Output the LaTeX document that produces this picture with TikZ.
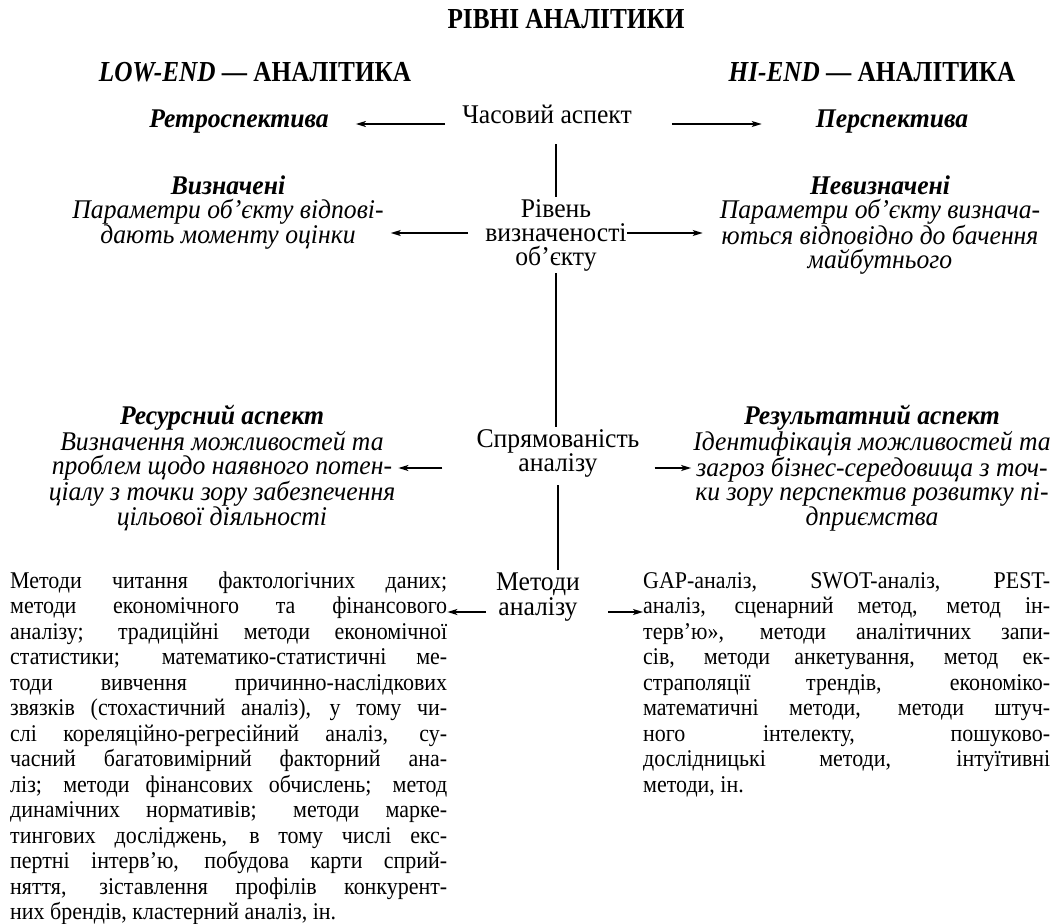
\documentclass[tikz,border=0pt]{standalone}
\usepackage{fontspec}
\setmainfont{Liberation Serif}
\newfontfamily\cnd[FakeStretch=0.95]{Liberation Serif}
\newfontfamily\hdf[FakeStretch=0.87]{Liberation Serif}
\newfontfamily\bdf[FakeStretch=0.915]{Liberation Serif}
\usetikzlibrary{arrows.meta}
\hbadness=10000 \hfuzz=60pt \vbadness=10000
\newcommand\clines[1]{\vtop{\halign{\hfil##\hfil\cr#1\crcr}}}
\newcommand\jl[1]{\hbox to\hsize{#1}}
\tikzset{
  lbl/.style={inner sep=0pt, anchor=base, font=\cnd\fontsize{27}{24}\selectfont},
  hd/.style={inner sep=0pt, anchor=base, font=\hdf\bfseries\fontsize{29}{24}\selectfont},
  itx/.style={inner sep=0pt, anchor=base, font=\cnd\itshape\fontsize{27}{24}\selectfont},
  body/.style={inner sep=0pt, anchor=base west, font=\bdf\fontsize{24}{25.5}\selectfont},
  arr/.style={-{Stealth[length=10pt,width=6pt,inset=2.5pt]}, line width=1.4pt},
  vline/.style={line width=1.4pt}
}
\begin{document}
\begin{tikzpicture}[x=1pt,y=-1pt]
\useasboundingbox (0,0) rectangle (1056,923);
% headings
\node[hd] (title) at (566,29) {РІВНІ АНАЛІТИКИ};
\node[hd] (low) at (255,82) {\itshape LOW-END\/\upshape{} — АНАЛІТИКА};
\node[hd] (hi) at (872,82) {\itshape HI-END\/\upshape{} — АНАЛІТИКА};
% row 1
\node[itx] (retro) at (239,127) {\bfseries Ретроспектива};
\node[lbl] (chas) at (547,124) {Часовий аспект};
\node[itx] (persp) at (892,127) {\bfseries Перспектива};
% row 2
\node[lbl] (riv) at (556,217) {\clines{Рівень\cr визначеності\cr об’єкту}};
\node[itx] (viz) at (228,194) {\clines{\bfseries Визначені\cr Параметри об’єкту відпові-\cr дають моменту оцінки}};
\node[itx] (nev) at (880,194) {\clines{\bfseries Невизначені\cr Параметри об’єкту визнача-\cr ються відповідно до бачення\cr майбутнього}};
% row 3
\node[lbl] (spr) at (558,447) {\clines{Спрямованість\cr аналізу}};
\node[itx] (res) at (222,424) {\clines{\bfseries Ресурсний аспект\cr Визначення можливостей та\cr проблем щодо наявного потен-\cr ціалу з точки зору забезпечення\cr цільової діяльності}};
\node[itx] (rez) at (872,424) {\clines{\bfseries Результатний аспект\cr Ідентифікація можливостей та\cr загроз бізнес-середовища з точ-\cr ки зору перспектив розвитку пі-\cr дприємства}};
% row 4
\node[lbl, font=\cnd\fontsize{27}{25}\selectfont] (met) at (538,590) {\clines{Методи\cr аналізу}};
\node[body] (lft) at (10,588) {\vtop{\hsize=437pt
\jl{Методи читання фактологічних даних;}
\jl{методи економічного та фінансового}
\jl{аналізу; традиційні методи економічної}
\jl{статистики; математико-статистичні ме-}
\jl{тоди вивчення причинно-наслідкових}
\jl{звязків (стохастичний аналіз), у тому чи-}
\jl{слі кореляційно-регресійний аналіз, су-}
\jl{часний багатовимірний факторний ана-}
\jl{ліз; методи фінансових обчислень; метод}
\jl{динамічних нормативів; методи марке-}
\jl{тингових досліджень, в тому числі екс-}
\jl{пертні інтерв’ю, побудова карти сприй-}
\jl{няття, зіставлення профілів конкурент-}
\hbox{них брендів, кластерний аналіз, ін.}}};
\node[body] (rgt) at (643,588) {\vtop{\hsize=407pt
\jl{GAP-аналіз, SWOT-аналіз, PEST-}
\jl{аналіз, сценарний метод, метод ін-}
\jl{терв’ю», методи аналітичних запи-}
\jl{сів, методи анкетування, метод ек-}
\jl{страполяції трендів, економіко-}
\jl{математичні методи, методи штуч-}
\jl{ного інтелекту, пошуково-}
\jl{дослідницькі методи, інтуїтивні}
\hbox{методи, ін.}}};
% arrow levels
\path (riv.base) ++(0,16) coordinate (r2);
\path (spr.base) ++(0,21) coordinate (r3);
\path (lft.base) ++(0,24) coordinate (r4);
% arrows
\draw[arr, shorten <=17pt, shorten >=27pt] (chas.base west) -- (chas.base west -| retro.base east);
\draw[arr, shorten <=40pt, shorten >=54pt] (chas.base east) -- (chas.base east -| persp.base west);
\draw[arr, shorten <=17pt, shorten >=7pt] (r2 -| riv.west) -- (r2 -| viz.east);
\draw[arr, shorten <=0pt, shorten >=17pt] (r2 -| riv.east) -- (r2 -| nev.west);
\draw[arr, shorten <=34pt, shorten >=3pt] (r3 -| spr.west) -- (r3 -| res.east);
\draw[arr, shorten <=15pt, shorten >=2pt] (r3 -| spr.east) -- (r3 -| rez.west);
\draw[arr, shorten <=10pt, shorten >=0pt] (r4 -| met.west) -- (r4 -| lft.east);
\draw[arr, shorten <=28pt, shorten >=0pt] (r4 -| met.east) -- (r4 -| rgt.west);
% vertical spine
\draw[vline, shorten <=20pt, shorten >=2pt] (chas.south -| riv.north) -- (riv.north);
\draw[vline, shorten <=2pt, shorten >=2pt] (riv.south) -- (riv.south |- spr.north);
\draw[vline, shorten <=8pt, shorten >=2pt] (spr.south) -- (spr.south |- met.north);
\end{tikzpicture}
\end{document}
